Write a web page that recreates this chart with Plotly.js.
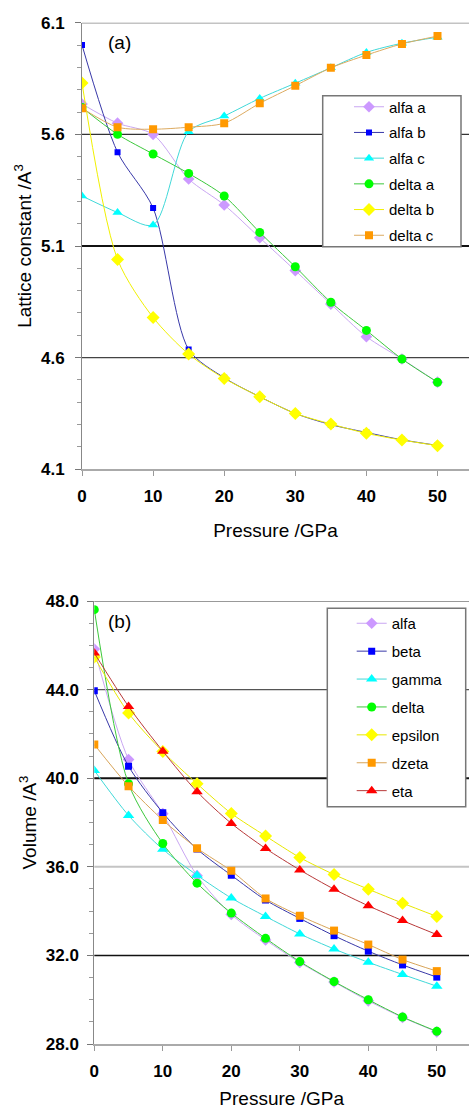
<!DOCTYPE html>
<html>
<head>
<meta charset="utf-8">
<script src="https://cdn.plot.ly/plotly-3.0.1.min.js"></script>
<style>
html,body{margin:0;padding:0;background:#fff;}
#chart{width:469px;height:1109px;}
</style>
</head>
<body>
<div id="chart"></div>
<script>
// ---------- data ----------
const pressure = [0, 5, 10, 15, 20, 25, 30, 35, 40, 45, 50];

// (a) lattice constants
const alfa_a  = [5.736, 5.65, 5.60, 5.40, 5.284, 5.137, 4.99, 4.84, 4.694, 4.594, 4.49];
const alfa_b  = [6.00, 5.52, 5.27, 4.637, 4.51, 4.425, 4.35, 4.30, 4.265, 4.232, 4.207];
const alfa_c  = [5.324, 5.25, 5.194, 5.612, 5.682, 5.761, 5.829, 5.898, 5.967, 6.008, 6.035];
const delta_a = [5.72, 5.60, 5.512, 5.425, 5.324, 5.161, 5.007, 4.848, 4.722, 4.594, 4.49];
const delta_b = [5.83, 5.04, 4.78, 4.616, 4.507, 4.425, 4.35, 4.303, 4.261, 4.231, 4.206];
const delta_c = [5.717, 5.632, 5.623, 5.632, 5.65, 5.739, 5.818, 5.898, 5.955, 6.005, 6.04];

// (b) volumes
const vol_alfa    = [45.83, 40.84, 38.4, 35.6, 33.85, 32.7, 31.68, 30.8, 29.95, 29.2, 28.55];
const vol_beta    = [43.95, 40.54, 38.44, 36.8, 35.62, 34.5, 33.67, 32.89, 32.19, 31.57, 31.02];
const vol_gamma   = [40.35, 38.32, 36.79, 35.62, 34.59, 33.76, 32.97, 32.29, 31.69, 31.14, 30.61];
const vol_delta   = [47.61, 39.75, 37.05, 35.26, 33.91, 32.77, 31.72, 30.82, 30.0, 29.22, 28.57];
const vol_epsilon = [45.47, 42.94, 41.2, 39.75, 38.41, 37.39, 36.42, 35.65, 34.99, 34.36, 33.76];
const vol_dzeta   = [41.52, 39.64, 38.11, 36.84, 35.82, 34.57, 33.79, 33.12, 32.49, 31.81, 31.29];
const vol_eta     = [45.65, 43.24, 41.22, 39.39, 37.96, 36.83, 35.86, 34.99, 34.24, 33.57, 32.94];

const topNames = ["alfa a", "alfa b", "alfa c", "delta a", "delta b", "delta c"];
const botNames = ["alfa", "beta", "gamma", "delta", "epsilon", "dzeta", "eta"];
const xTickVals = [0, 10, 20, 30, 40, 50];
const topYTicks = [4.1, 4.6, 5.1, 5.6, 6.1];
const botYTicks = [28, 32, 36, 40, 44, 48];

// ---------- styles ----------
const FONT = "Liberation Sans, Arial, Helvetica, sans-serif";
const W = 469, H = 1109;

function tr(name, y, ax, leg, symbol, mcol, lcol, size) {
  return {
    type: "scatter", mode: "lines+markers", name: name,
    x: pressure, y: y,
    xaxis: ax[0], yaxis: ax[1], legend: leg, legendgroup: leg + name,
    line: {color: lcol, width: 1, shape: "spline", smoothing: 0.8},
    marker: {symbol: symbol, color: mcol, size: size, line: {width: 0}},
    hoverinfo: "x+y+name"
  };
}

const A = ["x", "y"], B = ["x2", "y2"];
const topY = [alfa_a, alfa_b, alfa_c, delta_a, delta_b, delta_c];
const topStyle = [
  ["diamond", "#cc99ff", "#c9a6f2", 9],
  ["square", "#0000ff", "#3838a8", 6],
  ["triangle-up", "#00ffff", "#40d8d8", 9],
  ["circle", "#00ff00", "#3cc83c", 9],
  ["diamond", "#ffff00", "#f0f000", 10],
  ["square", "#ff9900", "#dcaa60", 8]
];
const botY = [vol_alfa, vol_beta, vol_gamma, vol_delta, vol_epsilon, vol_dzeta, vol_eta];
const botStyle = [
  ["diamond", "#cc99ff", "#c9a6f2", 9],
  ["square", "#0000ff", "#3838a8", 7],
  ["triangle-up", "#00ffff", "#40d8d8", 10],
  ["circle", "#00ff00", "#3cc83c", 9],
  ["diamond", "#ffff00", "#e8e800", 10],
  ["square", "#ff9900", "#d8a458", 8],
  ["triangle-up", "#ff0000", "#b83838", 10]
];

const data = [];
topNames.forEach((n, i) => { const s = topStyle[i]; data.push(tr(n, topY[i], A, "legend", s[0], s[1], s[2], s[3])); });
botNames.forEach((n, i) => { const s = botStyle[i]; data.push(tr(n, botY[i], B, "legend2", s[0], s[1], s[2], s[3])); });

function px(x) { return x / W; }
function py(y) { return (H - y) / H; }
const bold = (vals, dec) => vals.map(v => "<b>" + v.toFixed(dec) + "</b>");

const tickFont = {family: FONT, size: 17, color: "#000"};
const titleFont = {family: FONT, size: 19, color: "#000"};

function xAxis(dom, anchor, range, standoff) {
  return {
    domain: dom, anchor: anchor, range: range,
    tickvals: xTickVals, ticktext: bold(xTickVals, 0),
    ticks: "outside", ticklen: 5, tickcolor: "#999", tickwidth: 1,
    showline: true, linecolor: "#aaa", linewidth: 1.5,
    showgrid: false, zeroline: false,
    tickfont: tickFont, ticklabelstandoff: 6,
    title: {text: "Pressure /GPa", font: titleFont, standoff: standoff}
  };
}
function yAxis(dom, anchor, range, tv, minorD, title, lblStandoff) {
  return {
    domain: dom, anchor: anchor, range: range,
    tickvals: tv, ticktext: bold(tv, 1),
    ticks: "outside", ticklen: 6, tickcolor: "#777", tickwidth: 1,
    minor: {dtick: minorD, tick0: range[0], ticks: "outside", ticklen: 4, tickcolor: "#999", showgrid: false},
    showline: true, linecolor: "#888", linewidth: 1,
    showgrid: false, zeroline: false,
    tickfont: tickFont, ticklabelstandoff: lblStandoff,
    title: {text: title, font: titleFont, standoff: 4}
  };
}

function hline(yv, xr, yr, color, width) {
  return {type: "line", xref: xr + " domain", yref: yr, x0: 0, x1: 1, y0: yv, y1: yv,
          line: {color: color, width: width}, layer: "below"};
}

const shapes = [
  hline(6.1, "x", "y", "#888", 1.5),
  hline(5.6, "x", "y", "#333", 1.2),
  hline(5.1, "x", "y", "#111", 1.8),
  hline(4.6, "x", "y", "#444", 1.2),
  hline(48, "x2", "y2", "#777", 1.5),
  hline(44, "x2", "y2", "#555", 1.2),
  hline(40, "x2", "y2", "#111", 2),
  hline(36, "x2", "y2", "#c4c4c4", 2),
  hline(32, "x2", "y2", "#111", 1.5),
  // legend boxes
  {type: "rect", xref: "paper", yref: "paper", x0: px(322.7), x1: px(461), y0: py(246.7), y1: py(95.7),
   line: {color: "#777", width: 1.5}, fillcolor: "#fff", layer: "above"},
  {type: "rect", xref: "paper", yref: "paper", x0: px(327.3), x1: px(465.7), y0: py(806.7), y1: py(608.3),
   line: {color: "#777", width: 1.5}, fillcolor: "#fff", layer: "above"}
];

const legFont = {family: FONT, size: 15, color: "#000"};
const layout = {
  width: W, height: H,
  margin: {l: 0, r: 0, t: 0, b: 0},
  paper_bgcolor: "#fff", plot_bgcolor: "rgba(0,0,0,0)",
  font: {family: FONT},
  showlegend: true,
  xaxis: xAxis([px(82), 1], "y", [0, 54.43], 18),
  yaxis: yAxis([py(469.3), py(22.7)], "x", [4.1, 6.1], topYTicks, 0.1, "Lattice constant /A<sup>3</sup>", 7),
  xaxis2: xAxis([px(94.3), 1], "y2", [0, 54.7], 17),
  yaxis2: yAxis([py(1044), py(601)], "x2", [28, 48], botYTicks, 1, "Volume /A<sup>3</sup>\u00a0\u00a0\u00a0\u00a0\u00a0\u00a0\u00a0\u00a0\u00a0\u00a0\u00a0\u00a0", 5),
  legend: {x: px(349), y: py(90.5), xanchor: "left", yanchor: "top", bgcolor: "rgba(0,0,0,0)",
           borderwidth: 0, font: legFont, tracegroupgap: 3.2, traceorder: "grouped"},
  legend2: {x: px(351.7), y: py(607), xanchor: "left", yanchor: "top", bgcolor: "rgba(0,0,0,0)",
           borderwidth: 0, font: legFont, tracegroupgap: 5.4, traceorder: "grouped"},
  shapes: shapes,
  annotations: [
    {text: "(a)", xref: "x domain", yref: "y domain", x: (119.5 - 82) / 387, y: (469.3 - 42.7) / 446.6,
     xanchor: "center", yanchor: "middle", showarrow: false, font: {family: FONT, size: 19, color: "#000"}},
    {text: "(b)", xref: "x2 domain", yref: "y2 domain", x: (119.5 - 94.3) / 374.7, y: (1044 - 621.7) / 443,
     xanchor: "center", yanchor: "middle", showarrow: false, font: {family: FONT, size: 19, color: "#000"}}
  ]
};

Plotly.newPlot("chart", data, layout, {displayModeBar: false, staticPlot: true});
</script>
</body>
</html>
